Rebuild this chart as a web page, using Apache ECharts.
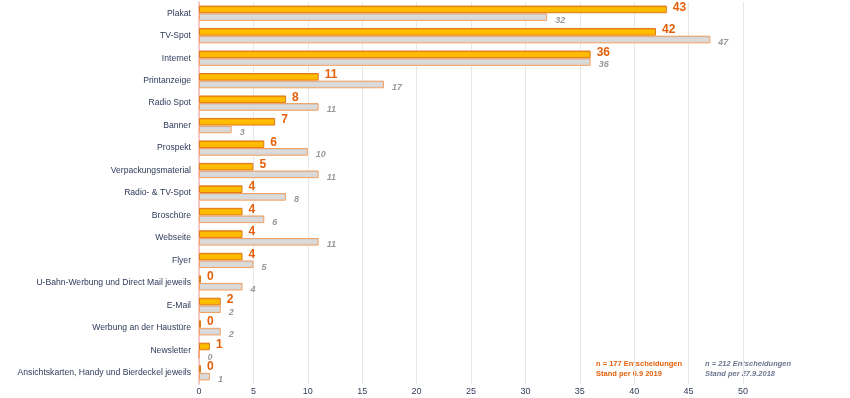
<!DOCTYPE html>
<html>
<head>
<meta charset="utf-8">
<script src="https://cdn.jsdelivr.net/npm/echarts@6/dist/echarts.min.js"></script>
<style>
  html, body { margin: 0; padding: 0; background: #fff; }
  #chart { width: 850px; height: 398px; }
</style>
</head>
<body>
<div id="chart"></div>
<script>
// Kategorien (von oben nach unten)
var kategorien = ['Plakat', 'TV-Spot', 'Internet', 'Printanzeige', 'Radio Spot', 'Banner', 'Prospekt',
	'Verpackungsmaterial', 'Radio- & TV-Spot', 'Broschüre', 'Webseite', 'Flyer',
	'U-Bahn-Werbung und Direct Mail jeweils', 'E-Mail', 'Werbung an der Haustüre', 'Newsletter',
	'Ansichtskarten, Handy und Bierdeckel jeweils'];
// Stand 6.9.2019
var werte2019 = [43, 42, 36, 11, 8, 7, 6, 5, 4, 4, 4, 4, 0, 2, 0, 1, 0];
// Stand 27.9.2018
var werte2018 = [32, 47, 36, 17, 11, 3, 10, 11, 8, 6, 11, 5, 4, 2, 2, 0, 1];
var xTicks = [0, 5, 10, 15, 20, 25, 30, 35, 40, 45, 50];

var chart = echarts.init(document.getElementById('chart'));

var option = {
	animation: false,
	grid: {
		left: 199,
		right: 107,
		top: 2,
		bottom: 14
	},
	xAxis: {
		type: 'value',
		min: xTicks[0],
		max: xTicks[xTicks.length - 1],
		interval: 5,
		axisLine: { show: false },
		axisTick: { show: false },
		axisLabel: {
			fontSize: 9,
			color: '#333d5a',
			fontFamily: 'Liberation Sans, Arial',
			margin: 3
		},
		splitLine: { lineStyle: { color: '#e8e8e8', width: 1 } }
	},
	yAxis: {
		type: 'category',
		inverse: true,
		data: kategorien,
		axisLine: { lineStyle: { color: '#f6b8b8', width: 1.5 } },
		axisTick: { show: false },
		axisLabel: {
			fontSize: 8.6,
			color: '#2f3a5a',
			fontFamily: 'Liberation Sans, Arial',
			margin: 8
		}
	},
	series: [{
		name: '2019',
		type: 'bar',
		data: werte2019,
		barGap: '0%',
		barCategoryGap: '32%',
		barMinHeight: 2,
		itemStyle: {
			color: {
				type: 'linear', x: 0, y: 0, x2: 0, y2: 1,
				colorStops: [
					{ offset: 0, color: '#d97a00' },
					{ offset: 0.3, color: '#ffc000' },
					{ offset: 1, color: '#ffb300' }
				]
			},
			borderColor: '#e07a1a',
			borderWidth: 1
		},
		label: {
			show: true,
			position: 'right',
			distance: 6,
			offset: [0, -2],
			color: '#e4600a',
			fontWeight: 'bold',
			fontSize: 12,
			fontFamily: 'Liberation Sans, Arial'
		}
	}, {
		name: '2018',
		type: 'bar',
		data: werte2018,
		itemStyle: {
			color: {
				type: 'linear', x: 0, y: 0, x2: 0, y2: 1,
				colorStops: [
					{ offset: 0, color: '#b8b8b8' },
					{ offset: 0.3, color: '#dcdcdc' },
					{ offset: 1, color: '#d6d6d6' }
				]
			},
			borderColor: '#f4a060',
			borderWidth: 1
		},
		label: {
			show: true,
			position: 'right',
			distance: 8,
			offset: [0, 3],
			color: '#999999',
			fontStyle: 'italic',
			fontWeight: 'bold',
			fontSize: 9,
			fontFamily: 'Liberation Sans, Arial'
		}
	}],
	graphic: [{
		type: 'text',
		left: 596,
		top: 359,
		style: {
			text: 'n = 177 Entscheidungen\nStand per 6.9 2019',
			fill: '#e4600a',
			font: 'bold 7.5px Liberation Sans, Arial',
			lineHeight: 10
		}
	}, {
		type: 'text',
		left: 705,
		top: 359,
		style: {
			text: 'n = 212 Entscheidungen\nStand per 27.9.2018',
			fill: '#6f7690',
			font: 'italic bold 7.5px Liberation Sans, Arial',
			lineHeight: 10
		}
	}]
};

chart.setOption(option);
</script>
</body>
</html>
